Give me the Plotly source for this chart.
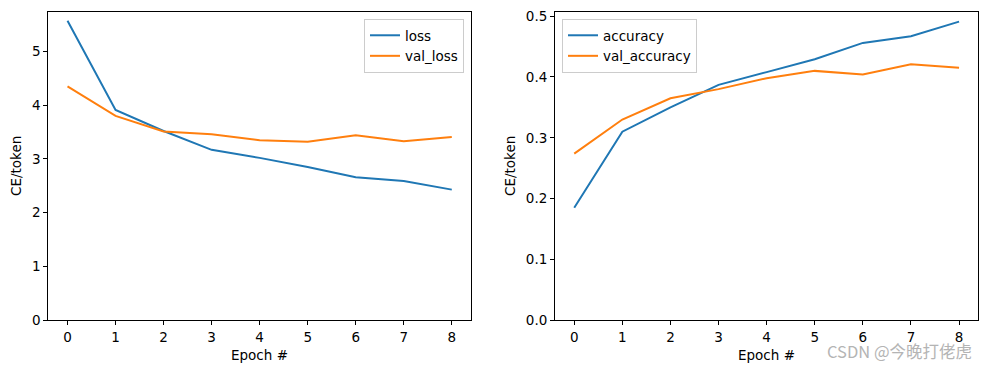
import plotly.graph_objects as go

epochs = [0, 1, 2, 3, 4, 5, 6, 7, 8]
loss = [5.57, 3.91, 3.52, 3.17, 3.02, 2.85, 2.66, 2.59, 2.43]
val_loss = [4.35, 3.80, 3.51, 3.46, 3.35, 3.32, 3.44, 3.33, 3.41]
accuracy = [0.185, 0.310, 0.350, 0.387, 0.408, 0.429, 0.456, 0.467, 0.491]
val_accuracy = [0.274, 0.330, 0.365, 0.380, 0.398, 0.410, 0.404, 0.421, 0.415]

BLUE = "#1f77b4"
ORANGE = "#ff7f0e"
FONT = "DejaVu Sans"
FS = 13.5

# page body has an 8px default margin; size the figure to fit inside it
OFF = 8
W, H = 988 - 2 * OFF, 373 - 2 * OFF


def px(x):
    return (x - OFF) / W


def py(y):
    return 1 - (y - OFF) / H


fig = go.Figure()
fig.add_trace(go.Scatter(x=epochs, y=loss, mode="lines", name="loss",
                         line=dict(color=BLUE, width=2), xaxis="x", yaxis="y", legend="legend"))
fig.add_trace(go.Scatter(x=epochs, y=val_loss, mode="lines", name="val_loss",
                         line=dict(color=ORANGE, width=2), xaxis="x", yaxis="y", legend="legend"))
fig.add_trace(go.Scatter(x=epochs, y=accuracy, mode="lines", name="accuracy",
                         line=dict(color=BLUE, width=2), xaxis="x2", yaxis="y2", legend="legend2"))
fig.add_trace(go.Scatter(x=epochs, y=val_accuracy, mode="lines", name="val_accuracy",
                         line=dict(color=ORANGE, width=2), xaxis="x2", yaxis="y2", legend="legend2"))


def ymax(vals):
    lo, hi = min(vals), max(vals)
    return hi + 0.05 * (hi - lo)


axis_common = dict(showline=True, mirror=True, linecolor="black", linewidth=1,
                   ticks="outside", ticklen=4, tickcolor="black", tickwidth=1,
                   showgrid=False, zeroline=False, automargin=False,
                   ticklabeloverflow="allow",
                   tickfont=dict(family=FONT, size=FS, color="black"))

ydom = [py(320.3), py(12.3)]

fig.update_layout(
    width=W, height=H, autosize=False,
    margin=dict(l=0, r=0, t=0, b=0, autoexpand=False),
    paper_bgcolor="white", plot_bgcolor="white",
    font=dict(family=FONT, size=FS, color="black"),
    xaxis=dict(domain=[px(48.3), px(471)], range=[-0.4, 8.4], tickvals=epochs,
               anchor="y", **axis_common),
    yaxis=dict(domain=ydom, range=[0, ymax(loss + val_loss)], tickvals=[0, 1, 2, 3, 4, 5],
               anchor="x", **axis_common),
    xaxis2=dict(domain=[px(555), px(978.3)], range=[-0.4, 8.4], tickvals=epochs,
                anchor="y2", **axis_common),
    yaxis2=dict(domain=ydom, range=[0, ymax(accuracy + val_accuracy)],
                tickvals=[0, 0.1, 0.2, 0.3, 0.4, 0.5], tickformat=".1f",
                anchor="x2", **axis_common),
    legend=dict(x=px(464), y=py(19), xanchor="right", yanchor="top",
                bgcolor="rgba(255,255,255,0.8)", bordercolor="#cccccc", borderwidth=1,
                font=dict(family=FONT, size=FS), tracegroupgap=0,
                itemwidth=30),
    legend2=dict(x=px(562), y=py(19), xanchor="left", yanchor="top",
                 bgcolor="rgba(255,255,255,0.8)", bordercolor="#cccccc", borderwidth=1,
                 font=dict(family=FONT, size=FS), tracegroupgap=0,
                 itemwidth=30),
    showlegend=True,
)

annots = [
    dict(text="Epoch #", x=px((48.3 + 471) / 2), y=py(355)),
    dict(text="Epoch #", x=px((555 + 978.3) / 2), y=py(355)),
    dict(text="CE/token", x=px(16), y=py(166), textangle=-90),
    dict(text="CE/token", x=px(510), y=py(166), textangle=-90),
]
for a in annots:
    fig.add_annotation(xref="paper", yref="paper", showarrow=False,
                       xanchor="center", yanchor="middle",
                       font=dict(family=FONT, size=FS, color="black"), **a)

fig.add_annotation(xref="paper", yref="paper", showarrow=False,
                   x=px(973), y=py(364), xanchor="right", yanchor="bottom",
                   borderpad=0,
                   text="CSDN @今晚打佬虎",
                   font=dict(family="Noto Sans CJK SC", size=16.5, color="#b4b4b4"))

fig.write_html("out.html")
